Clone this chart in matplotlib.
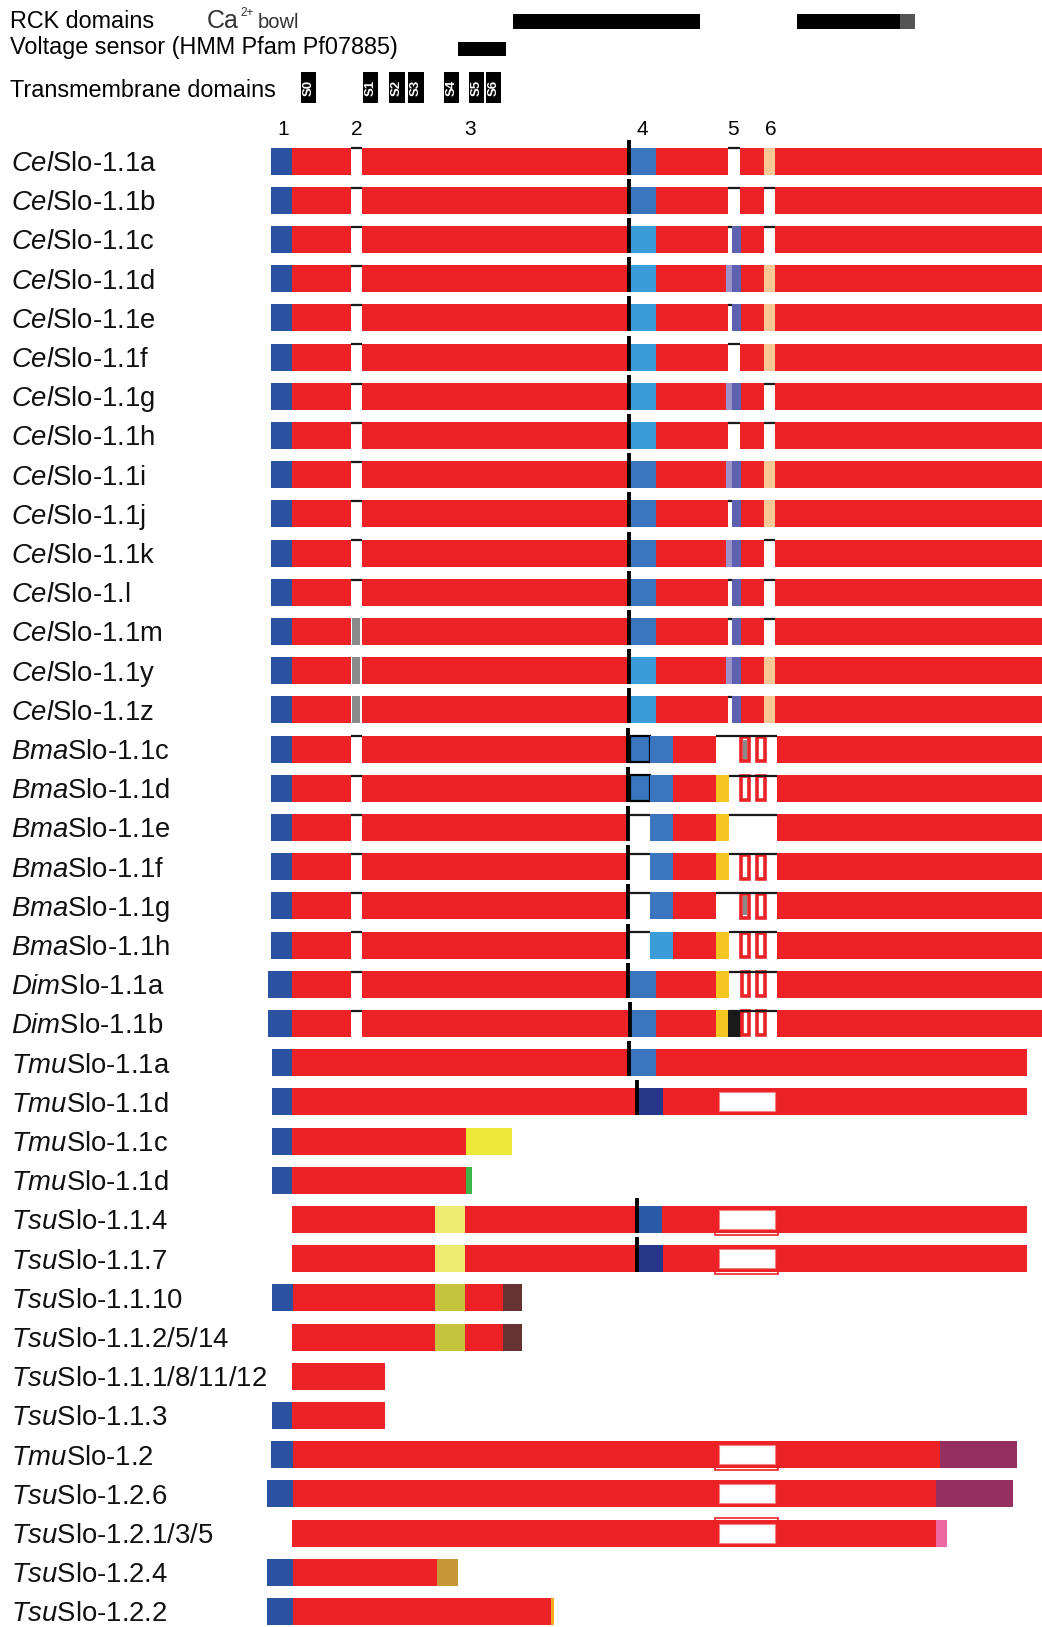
import matplotlib
matplotlib.use('Agg')
import matplotlib.pyplot as plt
from matplotlib.patches import Rectangle

plt.rcParams['font.family'] = ['Liberation Sans', 'DejaVu Sans']
plt.rcParams['mathtext.fontset'] = 'custom'
plt.rcParams['mathtext.it'] = 'Liberation Sans:italic'
plt.rcParams['mathtext.rm'] = 'Liberation Sans'
plt.rcParams['mathtext.default'] = 'regular'

# ---- colours ----
C = {
    'red': '#ec2227', 'start': '#2a52a0', 'mid': '#3a75bd', 'light': '#3a9cd9',
    'navy': '#27378a', 'blue2': '#2a5aa8', 'purple': '#5e60b0', 'lav': '#9a92c8',
    'peach': '#f7c796', 'yellow': '#f5c522', 'grey': '#8a8a8a', 'black': '#1a1a1a',
    'tmuyellow': '#ece83a', 'paleyellow': '#eeeb72', 'green': '#3db54a',
    'olive': '#c5c43c', 'brown': '#663232', 'maroon': '#943060', 'pink': '#ec6aa0',
    'tan': '#c89838', 'orange': '#f5a623',
}

# ---- row labels ----
species = ['Cel'] * 15 + ['Bma'] * 6 + ['Dim'] * 2 + ['Tmu'] * 4 + ['Tsu'] * 6 \
    + ['Tmu'] + ['Tsu'] * 4
isoforms = ['Slo-1.1a', 'Slo-1.1b', 'Slo-1.1c', 'Slo-1.1d', 'Slo-1.1e', 'Slo-1.1f',
            'Slo-1.1g', 'Slo-1.1h', 'Slo-1.1i', 'Slo-1.1j', 'Slo-1.1k', 'Slo-1.l',
            'Slo-1.1m', 'Slo-1.1y', 'Slo-1.1z',
            'Slo-1.1c', 'Slo-1.1d', 'Slo-1.1e', 'Slo-1.1f', 'Slo-1.1g', 'Slo-1.1h',
            'Slo-1.1a', 'Slo-1.1b',
            'Slo-1.1a', 'Slo-1.1d', 'Slo-1.1c', 'Slo-1.1d',
            'Slo-1.1.4', 'Slo-1.1.7', 'Slo-1.1.10', 'Slo-1.1.2/5/14',
            'Slo-1.1.1/8/11/12', 'Slo-1.1.3',
            'Slo-1.2', 'Slo-1.2.6', 'Slo-1.2.1/3/5', 'Slo-1.2.4', 'Slo-1.2.2']

# ---- header domains (alignment positions) ----
rck_bars = [(513, 700, 'black'), (797, 900, 'black'), (900, 915, '#555555')]
vsensor = (458, 506)
tm_names = ['S0', 'S1', 'S2', 'S3', 'S4', 'S5', 'S6']
tm_left = [301, 363, 389, 408, 444, 469, 486]
tm_right = [316, 378, 405, 424, 459, 484, 501]
exon_names = ['1', '2', '3', '4', '5', '6']
exon_pos = [283, 357, 470, 642, 733, 771]

# ---- C. elegans isoforms: state of the alternative exons ----
cel_exon2 = ['gap'] * 12 + ['grey'] * 3
cel_exon4 = ['mid', 'mid', 'light', 'light', 'light', 'light', 'light', 'light',
             'mid', 'mid', 'mid', 'mid', 'mid', 'light', 'light']
cel_exon5a = ['gap', 'gap', 'gap', 'lav', 'gap', 'gap', 'lav', 'gap', 'lav', 'gap',
              'lav', 'gap', 'gap', 'lav', 'gap']
cel_exon5b = ['gap', 'gap', 'purple', 'purple', 'purple', 'gap', 'purple', 'gap',
              'purple', 'purple', 'purple', 'purple', 'purple', 'purple', 'purple']
cel_exon6 = ['peach', 'gap', 'gap', 'peach', 'peach', 'peach', 'gap', 'gap', 'peach',
             'peach', 'gap', 'gap', 'gap', 'peach', 'peach']

# ---- B. malayi isoforms ----
bma_box4 = [True, True, False, False, False, False]
bma_exon4 = ['mid', 'mid', 'mid', 'mid', 'mid', 'light']
bma_yellow = [False, True, True, True, False, True]
bma_boxes = [True, True, False, True, True, True]
bma_box_grey = [True, False, False, False, True, False]

# ---- remaining isoforms: explicit segments (start, end, colour) ----
dim_a = [(268, 292, 'start'), (292, 351, 'red'), (361.5, 628, 'red'), (630, 656, 'mid'),
         (656, 716, 'red'), (716, 729, 'yellow'), (776.5, 1042, 'red')]
dim_b = [(268, 292, 'start'), (292, 351, 'red'), (361.5, 630, 'red'), (632, 656, 'mid'),
         (656, 716, 'red'), (716, 728, 'yellow'), (728, 741, 'black'), (776.5, 1042, 'red')]
tmu_a = [(272, 292, 'start'), (292, 630, 'red'), (630, 656, 'mid'), (656, 1027, 'red')]
tmu_d = [(272, 292, 'start'), (292, 638, 'red'), (638, 663, 'navy'), (663, 1027, 'red')]
tmu_c = [(272, 292, 'start'), (292, 466, 'red'), (466, 512, 'tmuyellow')]
tmu_d2 = [(272, 292, 'start'), (292, 466, 'red'), (466, 472, 'green')]
tsu_4 = [(292, 435, 'red'), (435, 465, 'paleyellow'), (465, 639, 'red'),
         (639, 662, 'blue2'), (662, 1027, 'red')]
tsu_7 = [(292, 435, 'red'), (435, 465, 'paleyellow'), (465, 639, 'red'),
         (639, 663, 'navy'), (663, 1027, 'red')]
tsu_10 = [(272, 293, 'start'), (293, 435, 'red'), (435, 465, 'olive'), (465, 503, 'red'),
          (503, 522, 'brown')]
tsu_2 = [(292, 435, 'red'), (435, 465, 'olive'), (465, 503, 'red'), (503, 522, 'brown')]
tsu_1 = [(292, 385, 'red')]
tsu_3 = [(272, 292, 'start'), (292, 385, 'red')]
tmu_12 = [(271, 293, 'start'), (293, 940, 'red'), (940, 1017, 'maroon')]
tsu_126 = [(267, 293, 'start'), (293, 936, 'red'), (936, 1013, 'maroon')]
tsu_121 = [(292, 936, 'red'), (936, 947, 'pink')]
tsu_124 = [(267, 293, 'start'), (293, 437, 'red'), (437, 458, 'tan')]
tsu_122 = [(267, 293, 'start'), (293, 551, 'red'), (551, 554, 'orange')]
tail_rows = [tmu_a, tmu_d, tmu_c, tmu_d2, tsu_4, tsu_7, tsu_10, tsu_2, tsu_1, tsu_3,
             tmu_12, tsu_126, tsu_121, tsu_124, tsu_122]
# exon-4 marker line per tail row (None = no marker)
tail_marker = [628.5, 636.5, None, None, 637, 637, None, None, None, None,
               None, None, None, None, None]
# white deletion box, and whether its outline spills below (1) or above (-1) the bar
tail_del = [False, True, False, False, True, True, False, False, False, False,
            True, True, True, False, False]
tail_spill = [0, 0, 0, 0, 1, 1, 0, 0, 0, 0, 1, 0, -1, 0, 0]

# ---- layout ----
Y0, STEP, H = 161, 39.2, 27

fig = plt.figure(figsize=(10.42, 16.27), dpi=100)
ax = fig.add_axes([0, 0, 1, 1])
ax.set_xlim(0, 1042)
ax.set_ylim(1627, 0)
ax.axis('off')


def seg(y, x0, x1, col):
    ax.barh(y, x1 - x0, left=x0, height=H, color=C[col], linewidth=0)


def intron(y, x0, x1):
    ax.hlines(y - H / 2 + 0.8, x0, x1, color='#1a1a1a', lw=1.6)


def marker(y, x):
    ax.vlines(x, y - H / 2 - 8, y + H / 2, color='black', lw=2.8)


def red_box(y, x0, x1, grey=False):
    ax.add_patch(Rectangle((x0 + 1.5, y - H / 2 + 1.5), x1 - x0 - 3, H - 3,
                           facecolor='white', edgecolor=C['red'], lw=2.6))
    if grey:
        ax.add_patch(Rectangle((743, y - H / 2 + 4), 3.7, H - 8, facecolor=C['grey'], lw=0))


def del_box(y, spill):
    if spill == 1:
        ax.add_patch(Rectangle((715, y - H / 2 + 3), 63, H - 1, fill=False,
                               edgecolor=C['red'], lw=1.2))
    elif spill == -1:
        ax.add_patch(Rectangle((715, y - H / 2 - 2), 63, H - 1, fill=False,
                               edgecolor=C['red'], lw=1.2))
    ax.add_patch(Rectangle((718.5, y - H / 2 + 4), 56.5, H - 8, facecolor='white',
                           edgecolor='#f28080', lw=0.8))


ys = [Y0 + STEP * i for i in range(len(isoforms))]

# C. elegans rows
for i in range(15):
    y = ys[i]
    seg(y, 271, 292, 'start')
    seg(y, 292, 351, 'red')
    if cel_exon2[i] == 'grey':
        seg(y, 352, 359.5, 'grey')
    else:
        intron(y, 351, 361.5)
    seg(y, 361.5, 630, 'red')
    seg(y, 631, 656, cel_exon4[i])
    seg(y, 656, 728, 'red')
    seg(y, 740, 763.5, 'red')
    if cel_exon5a[i] == 'lav':
        seg(y, 726, 732, 'lav')
    if cel_exon5b[i] == 'purple':
        seg(y, 732, 741, 'purple')
        if cel_exon5a[i] == 'gap':
            intron(y, 728, 732)
    else:
        intron(y, 728, 740)
    if cel_exon6[i] == 'peach':
        seg(y, 763.5, 775, 'peach')
    else:
        intron(y, 763.5, 775)
    seg(y, 775, 1042, 'red')
    marker(y, 629.3)

# B. malayi rows
for k in range(6):
    y = ys[15 + k]
    seg(y, 271, 292, 'start')
    seg(y, 292, 351, 'red')
    intron(y, 351, 361.5)
    seg(y, 361.5, 627, 'red')
    if bma_box4[k]:
        seg(y, 630, 650, 'mid')
        ax.add_patch(Rectangle((630, y - H / 2 + 0.5), 20, H - 1, fill=False,
                               edgecolor='black', lw=1.6))
    else:
        intron(y, 629, 650)
    seg(y, 650, 673, bma_exon4[k])
    seg(y, 673, 716, 'red')
    if bma_yellow[k]:
        seg(y, 716, 729, 'yellow')
        intron(y, 729, 776.5)
    else:
        intron(y, 716, 776.5)
    if bma_boxes[k]:
        red_box(y, 739.5, 750.5, bma_box_grey[k])
        red_box(y, 755, 766, False)
    seg(y, 776.5, 1042, 'red')
    marker(y, 628)

# D. immitis rows
for k, row in enumerate([dim_a, dim_b]):
    y = ys[21 + k]
    for x0, x1, col in row:
        seg(y, x0, x1, col)
    intron(y, 351, 361.5)
    intron(y, 729, 776.5)
    red_box(y, 740.5, 750.5, False)
    red_box(y, 755, 766, False)
    marker(y, [628, 630][k])

# T. muris / T. suis rows
for k, row in enumerate(tail_rows):
    y = ys[23 + k]
    for x0, x1, col in row:
        seg(y, x0, x1, col)
    if tail_del[k]:
        del_box(y, tail_spill[k])
    if tail_marker[k] is not None:
        marker(y, tail_marker[k])

# row labels
for y, sp, iso in zip(ys, species, isoforms):
    ax.text(11, y + 10, rf'$\mathit{{{sp}}}$' + iso, fontsize=19.8, va='baseline',
            ha='left', color='#111111')

# ---- header ----
ax.text(10, 28, 'RCK domains', fontsize=16.8, va='baseline')
ax.text(207, 28, 'Ca', fontsize=18, va='baseline', color='#333333')
ax.text(240, 16, '2+', fontsize=8.5, va='baseline', color='#333333')
ax.text(258, 28, 'bowl', fontsize=14.5, va='baseline', color='#333333')
ax.text(10, 54, 'Voltage sensor (HMM Pfam Pf07885)', fontsize=16.8, va='baseline')
ax.text(10, 97, 'Transmembrane domains', fontsize=16.8, va='baseline')
for x0, x1, col in rck_bars:
    ax.add_patch(Rectangle((x0, 14), x1 - x0, 14.5, facecolor=col, lw=0))
ax.add_patch(Rectangle((vsensor[0], 42), vsensor[1] - vsensor[0], 13.5,
                       facecolor='black', lw=0))
for name, x0, x1 in zip(tm_names, tm_left, tm_right):
    ax.add_patch(Rectangle((x0, 72), x1 - x0, 31, facecolor='black', lw=0))
    ax.text((x0 + x1) / 2, 87.5, name, rotation=90, color='white', fontsize=9.5,
            fontweight='bold', ha='center', va='center')
for name, x in zip(exon_names, exon_pos):
    ax.text(x, 135, name, fontsize=15, ha='center', va='baseline')

fig.savefig('out.png', dpi=100)
